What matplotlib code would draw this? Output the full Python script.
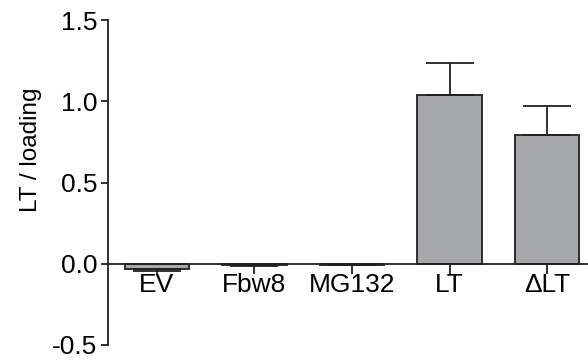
import numpy as np
import matplotlib.pyplot as plt

plt.rcParams['font.family'] = ['Liberation Sans', 'DejaVu Sans']

labels = ["EV", "Fbw8", "MG132", "LT", "\u0394LT"]
means = [-0.03, -0.01, -0.005, 1.04, 0.79]
errs = [0.012, 0.004, 0.002, 0.195, 0.18]

x = np.arange(len(labels))
fig = plt.figure(figsize=(5.88, 3.6), dpi=100)
ax = fig.add_axes([0.184, 0.042, 0.816, 0.902])

edge = "#231f20"
ax.bar(x, means, width=0.66, color="#a7a8ab", edgecolor=edge, linewidth=1.3, zorder=2)

# error bars only point away from zero
lower = [e if m < 0 else 0 for m, e in zip(means, errs)]
upper = [e if m >= 0 else 0 for m, e in zip(means, errs)]
ax.errorbar(x, means, yerr=[lower, upper], fmt="none", ecolor=edge,
            elinewidth=1.3, capsize=17, capthick=1.3, zorder=3)

ax.set_xlim(-0.5, 4.42)
ax.set_ylim(-0.5, 1.5)
ax.set_yticks([-0.5, 0.0, 0.5, 1.0, 1.5])
ax.set_yticklabels(["-0.5", "0.0", "0.5", "1.0", "1.5"])
ax.set_xticks(x)
ax.set_xticklabels(labels)
ax.set_ylabel("LT / loading", fontsize=17.5)
ax.yaxis.set_label_coords(-0.138, 0.6)

ax.spines["top"].set_visible(False)
ax.spines["right"].set_visible(False)
ax.spines["bottom"].set_position(("data", 0))
for s in ["left", "bottom"]:
    ax.spines[s].set_color(edge)
    ax.spines[s].set_linewidth(1.3)
ax.tick_params(axis="y", direction="out", length=5, width=1.3, color=edge, labelsize=19, pad=3)
ax.tick_params(axis="x", direction="out", length=7, width=1.3, color=edge, labelsize=19, pad=0)
ax.patch.set_visible(False)

fig.savefig("out.png", dpi=100)
